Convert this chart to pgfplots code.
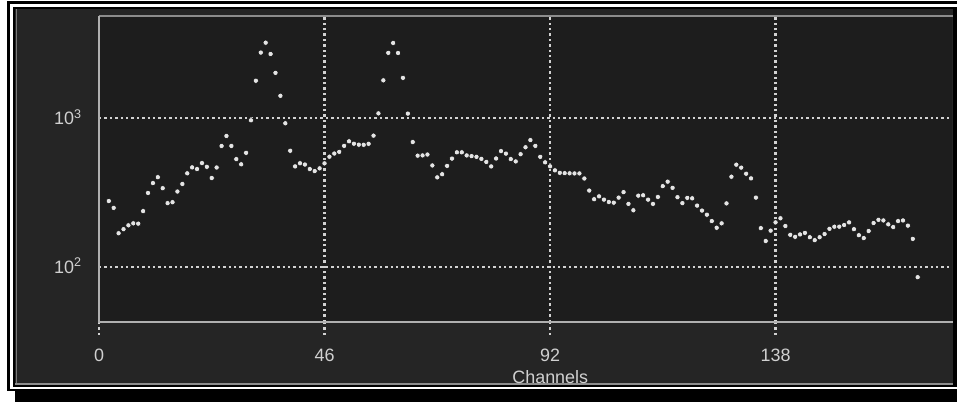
\documentclass[border=0pt]{standalone}
\usepackage{fontspec}
\setmainfont{Liberation Sans}
\usepackage{pgfplots}
\pgfplotsset{compat=1.18}
\definecolor{panel}{HTML}{252525}
\definecolor{plotbg}{HTML}{1D1D1D}
\definecolor{axgray}{HTML}{B0B0B0}
\definecolor{topgray}{HTML}{8C8C8C}
\definecolor{gridc}{HTML}{D2D2D2}
\definecolor{txt}{HTML}{D0D0D0}
\definecolor{dotc}{HTML}{E4E4E4}
\pgfplotstableread{
ch val
2 277
3 249
4 168
5 179
6 190
7 196
8 195
9 237
10 314
11 366
12 401
13 338
14 268
15 272
16 321
17 361
18 426
19 467
20 455
21 499
22 471
23 396
24 466
25 651
26 760
27 651
28 531
29 490
30 585
31 970
32 1791
33 2772
34 3233
35 2712
36 2024
37 1418
38 926
39 604
40 474
41 498
42 488
43 455
44 441
45 460
46 497
47 551
48 579
49 594
50 652
51 700
52 674
53 664
54 663
55 673
56 764
57 1079
58 1802
59 2760
60 3218
61 2755
62 1873
63 1075
64 692
65 560
66 562
67 570
68 481
69 400
70 420
71 478
72 535
73 590
74 590
75 562
76 556
77 550
78 533
79 508
80 474
81 536
82 601
83 578
84 531
85 512
86 573
87 638
88 713
89 652
90 550
91 505
92 475
93 446
94 429
95 427
96 426
97 425
98 425
99 393
100 326
101 285
102 298
103 283
104 273
105 270
106 292
107 318
108 265
109 240
110 301
111 303
112 283
113 265
114 295
115 349
116 374
117 340
118 294
119 268
120 291
121 289
122 258
123 239
124 224
125 203
126 183
127 196
128 267
129 404
130 487
131 465
132 423
133 394
134 292
135 182
136 149
137 175
138 199
139 212
140 188
141 164
142 159
143 165
144 169
145 158
146 151
147 158
148 166
149 180
150 186
151 186
152 191
153 199
154 179
155 163
156 156
157 174
158 197
159 207
160 205
161 193
162 185
163 203
164 205
165 189
166 154
167 85
}\spectrum
\begin{document}
\begin{tikzpicture}[x=1bp,y=1bp]
\path[use as bounding box] (0,0) rectangle (957,402);
\fill[white] (0,0) rectangle (957,402);
\fill[black] (7,11) rectangle (957,401);
\fill[black] (15,0) rectangle (957,11);
\fill[white] (10,13) rectangle (957,398);
\fill[black] (13,15) rectangle (957,395);
\fill[panel] (15,17) rectangle (953,393);
\draw[axgray!60!panel, line width=1.5] (16.5,17) -- (16.5,393);
\draw[axgray!75!panel, line width=2] (15,18) -- (953,18);
\begin{axis}[
  at={(99bp,80bp)}, anchor=south west,
  scale only axis, width=853bp, height=306bp,
  xmin=0, xmax=174, ymode=log, ymin=42.4, ymax=4890,
  axis line style={draw=none},
  axis background/.style={fill=plotbg},
  clip=false,
  xtick={0,46,92,138}, xticklabels={0,46,92,138},
  ytick={100,1000}, yticklabels={10\textsuperscript{2},10\textsuperscript{3}},
  major tick length=0pt, minor tick length=0pt,
  tick style={draw=none}, minor tick style={draw=none},
  grid=major,
  major grid style={gridc, line width=2.2bp, dash pattern=on 2.4bp off 3bp},
  xticklabel style={font=\fontsize{18}{18}\selectfont, text=txt, anchor=center, yshift=-33bp},
  yticklabel style={font=\fontsize{18}{18}\selectfont, text=txt, anchor=base east, xshift=-14bp, yshift=-6.5bp},
  xlabel={Channels},
  xlabel style={font=\fontsize{18}{18}\selectfont, text=txt, at={(rel axis cs:0.529,0)}, anchor=center, yshift=-55bp},
]
\addplot[only marks, mark=*, mark size=2.6bp, mark options={fill=dotc, draw=none}] table[x=ch, y=val] {\spectrum};
\pgfplotsinvokeforeach{0,46,92,138}{
  \draw[gridc, line width=2.2bp, dash pattern=on 2.4bp off 3bp] (axis cs:#1,42.4) -- ([yshift=-13bp]axis cs:#1,42.4);
}
\draw[topgray, line width=1.5bp] (rel axis cs:0,1) -- ([xshift=1bp]rel axis cs:1,1);
\draw[axgray, line width=2.2bp] (rel axis cs:0,0) -- (rel axis cs:0,1);
\draw[axgray, line width=2.5bp] ([xshift=-1bp]rel axis cs:0,0) -- ([xshift=1bp]rel axis cs:1,0);
\end{axis}
\end{tikzpicture}
\end{document}
